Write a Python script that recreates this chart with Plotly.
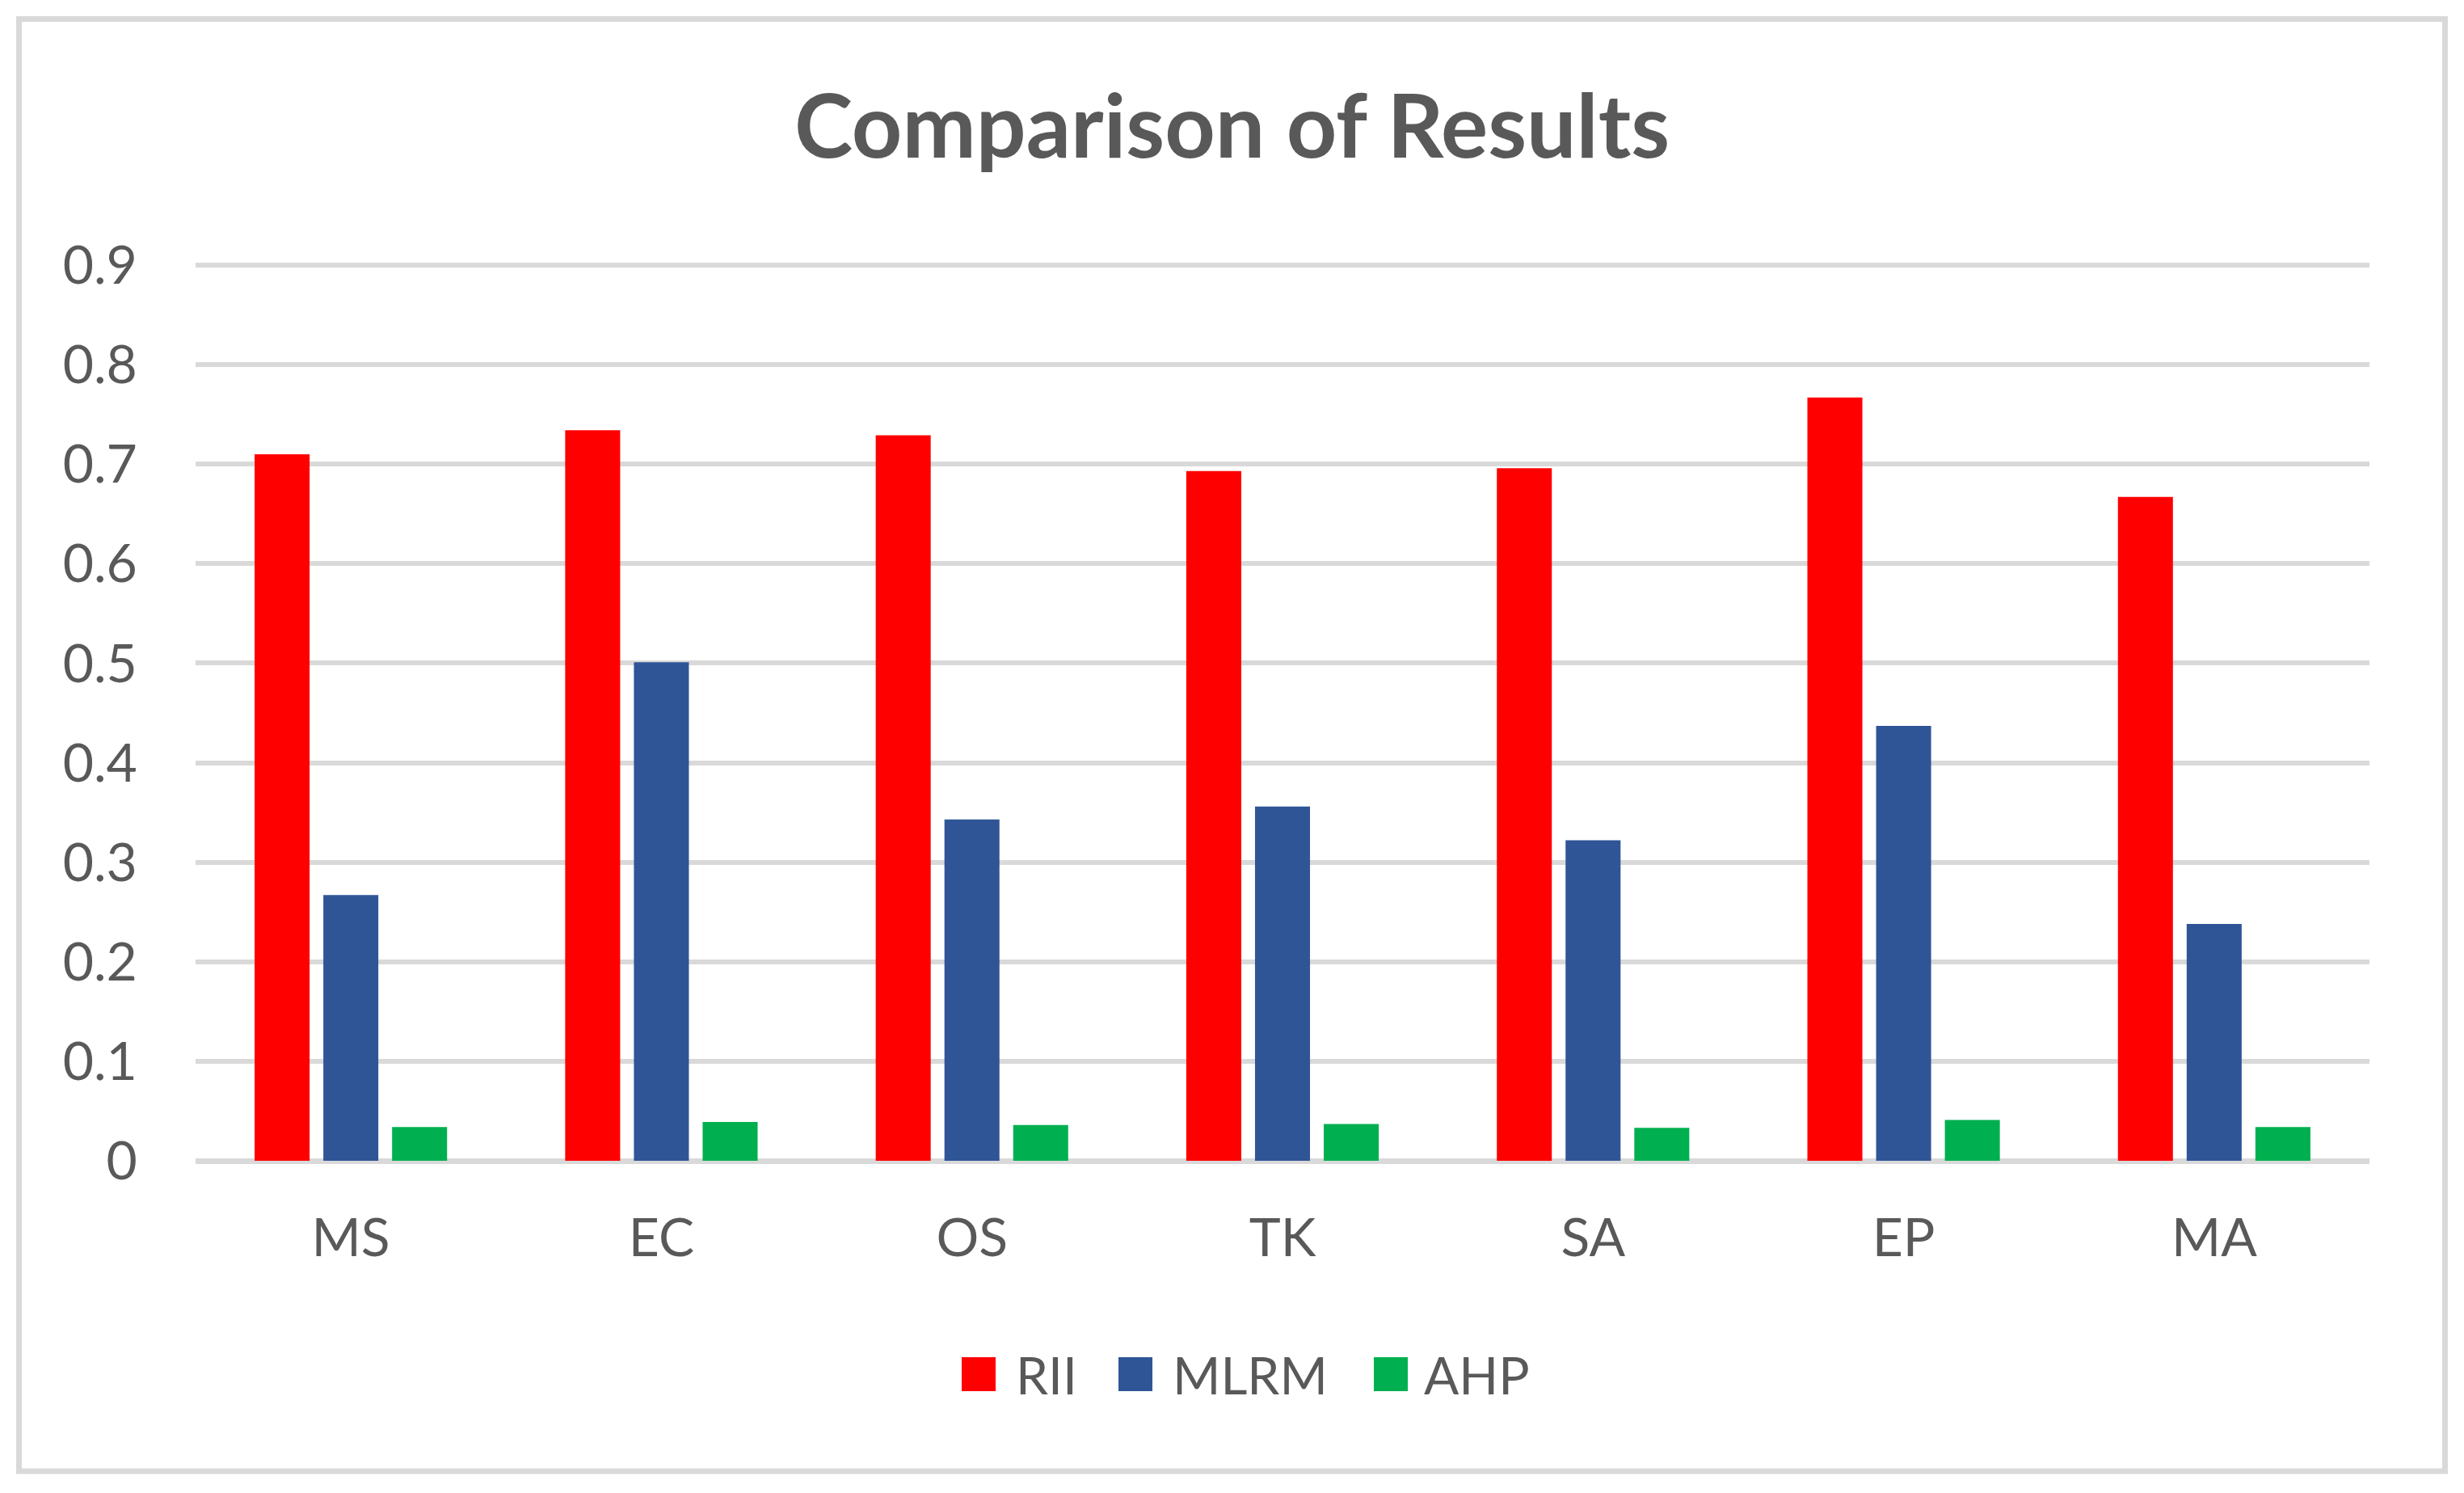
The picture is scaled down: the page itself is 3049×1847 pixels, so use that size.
import plotly.graph_objects as go

categories = ["MS", "EC", "OS", "TK", "SA", "EP", "MA"]
rii = [0.710, 0.734, 0.729, 0.693, 0.696, 0.767, 0.667]
mlrm = [0.267, 0.501, 0.343, 0.356, 0.322, 0.437, 0.238]
ahp = [0.034, 0.039, 0.036, 0.037, 0.033, 0.041, 0.034]
series_names = ["RII", "MLRM", "AHP"]
series_colors = ["#FF0000", "#2F5597", "#00B050"]
y_ticks = [0, 0.1, 0.2, 0.3, 0.4, 0.5, 0.6, 0.7, 0.8, 0.9]
y_tick_labels = ["0", "0.1", "0.2", "0.3", "0.4", "0.5", "0.6", "0.7", "0.8", "0.9"]
title_text = "Comparison of Results"

W, H = 3049, 1847
FONT = "Lato, Carlito, Calibri, Arial, sans-serif"
TXT = "#595959"
GRID = "#D9D9D9"

def px_x(x):
    return x / W

def px_y(y):
    return 1 - y / H

fig = go.Figure()
for name, vals, col in zip(series_names, [rii, mlrm, ahp], series_colors):
    fig.add_trace(go.Bar(x=categories, y=vals, name=name, marker=dict(color=col, line=dict(width=0)),
                         showlegend=False))

# plot area in pixels (0 at PB, 0.9 at PT)
PL, PR, PT, PB = 242, 2932, 328, 1436
YMAX = 0.905
PT_EXT = PB - (PB - PT) * YMAX / 0.9

fig.update_layout(
    width=W, height=H,
    autosize=False,
    margin=dict(l=0, r=0, t=0, b=0, pad=0, autoexpand=False),
    paper_bgcolor="white", plot_bgcolor="white",
    barmode="group", bargap=0.336, bargroupgap=0.2,
    font=dict(family=FONT, color=TXT, size=66),
    title=dict(text=title_text, x=0.5, xanchor="center", xref="container",
               y=px_y(157), yanchor="middle", yref="container", automargin=False,
               font=dict(family=FONT, size=109, color=TXT, weight="bold")),
    xaxis=dict(domain=[px_x(PL), px_x(PR)], showgrid=False, showline=False, zeroline=False,
               automargin=False,
               ticks="outside", ticklen=38, tickcolor="rgba(0,0,0,0)",
               tickfont=dict(family=FONT, size=66, color=TXT)),
    yaxis=dict(domain=[px_y(PB), px_y(PT_EXT)], range=[0, YMAX], tickvals=y_ticks, ticktext=y_tick_labels,
               automargin=False,
               showgrid=True, gridcolor=GRID, gridwidth=6,
               zeroline=True, zerolinecolor=GRID, zerolinewidth=7, showline=False,
               ticks="outside", ticklen=58, tickcolor="rgba(0,0,0,0)",
               tickfont=dict(family=FONT, size=66, color=TXT)),
    showlegend=False,
)

# chart border
fig.add_shape(type="rect", xref="paper", yref="paper",
              x0=px_x(23.5), x1=px_x(3025.5), y0=px_y(1820), y1=px_y(23.5),
              line=dict(color=GRID, width=7), fillcolor="rgba(0,0,0,0)", layer="below")

# legend (custom, large swatches)
sw_left = [1190, 1384, 1700]
txt_left = [1255, 1449, 1760]
for name, col, sx, tx in zip(series_names, series_colors, sw_left, txt_left):
    fig.add_shape(type="rect", xref="paper", yref="paper",
                  x0=px_x(sx), x1=px_x(sx + 42), y0=px_y(1721), y1=px_y(1679),
                  line=dict(width=0), fillcolor=col)
    fig.add_annotation(text=name, xref="paper", yref="paper", x=px_x(tx), y=px_y(1700),
                       xanchor="left", yanchor="middle", showarrow=False,
                       font=dict(family=FONT, size=64, color=TXT))

fig.write_html("out.html", config={"displayModeBar": False},
               post_script="document.body.style.margin='0px';")
